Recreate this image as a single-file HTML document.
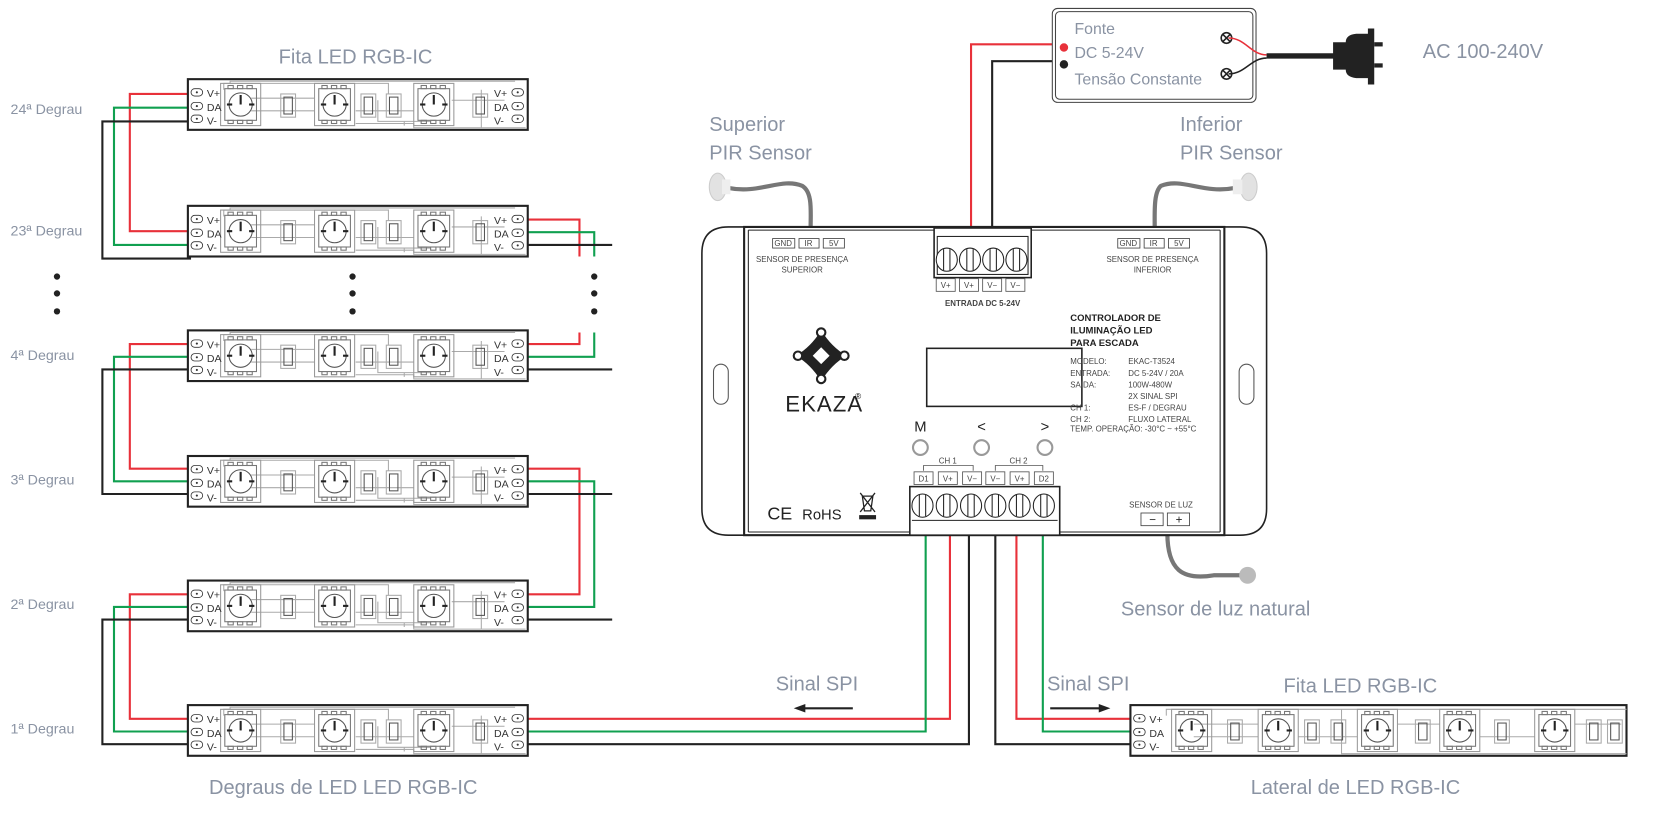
<!DOCTYPE html>
<html><head><meta charset="utf-8"><style>
html,body{margin:0;padding:0;background:#fff;width:1655px;height:817px;overflow:hidden}
svg{display:block}
.lb{font-family:"Liberation Sans",sans-serif;fill:#8a93a3;font-size:19px}
.sm{font-family:"Liberation Sans",sans-serif;fill:#333;font-size:10px}
.tx{font-family:"Liberation Sans",sans-serif;fill:#444;font-size:7.5px}
.dg{font-family:"Liberation Sans",sans-serif;fill:#8a93a3;font-size:13.5px}
</style></head><body>
<svg width="1655" height="817" viewBox="0 0 1568 774" preserveAspectRatio="none" xmlns="http://www.w3.org/2000/svg">
<defs>
<g id="chip">
 <rect x="0" y="4" width="38" height="40" fill="none" stroke="#999" stroke-width="1"/>
 <rect x="4" y="9" width="30" height="30" fill="none" stroke="#777" stroke-width="1"/>
 <circle cx="19" cy="24" r="11" fill="none" stroke="#555" stroke-width="1"/>
 <line x1="19" y1="15" x2="19" y2="24" stroke="#222" stroke-width="2"/>
 <line x1="6" y1="24" x2="11" y2="24" stroke="#222" stroke-width="2"/>
 <line x1="27" y1="24" x2="32" y2="24" stroke="#222" stroke-width="2"/>
 <rect x="7" y="6" width="5" height="3" fill="none" stroke="#777"/><rect x="16" y="6" width="5" height="3" fill="none" stroke="#777"/><rect x="25" y="6" width="5" height="3" fill="none" stroke="#777"/>
 <rect x="7" y="39" width="5" height="3" fill="none" stroke="#777"/><rect x="16" y="39" width="5" height="3" fill="none" stroke="#777"/><rect x="25" y="39" width="5" height="3" fill="none" stroke="#777"/>
</g>
<g id="res">
 <rect x="0" y="14" width="14" height="22" fill="none" stroke="#aaa"/>
 <rect x="3" y="17" width="8" height="16" fill="none" stroke="#555"/>
</g>
<g id="pads">
 <rect x="0" y="9" width="11" height="7" rx="3.5" fill="#fff" stroke="#333" stroke-width="0.8"/>
 <rect x="0" y="22" width="11" height="7" rx="3.5" fill="#fff" stroke="#333" stroke-width="0.8"/>
 <rect x="0" y="34" width="11" height="7" rx="3.5" fill="#fff" stroke="#333" stroke-width="0.8"/>
 <circle cx="5.5" cy="12.5" r="1" fill="#333"/><circle cx="5.5" cy="25.5" r="1" fill="#333"/><circle cx="5.5" cy="37.5" r="1" fill="#333"/>
</g>
<g id="strip">
 <rect x="0" y="0" width="322" height="48" fill="#fff" stroke="#222" stroke-width="2"/>
 <g fill="none" stroke="#aaa" stroke-width="1">
  <path d="M34 10 V4 H190 V14 M40 4 V2 H310 M60 30 H120 M60 18 H120 M159 30 H214 M159 42 H214 V46 H320 M250 20 H300 M180 20 V40 H230 M205 40 V44 M278 10 V46"/>
 </g>
 <use href="#chip" x="31" y="0"/><use href="#chip" x="120" y="0"/><use href="#chip" x="214" y="0"/>
 <use href="#res" x="88" y="0"/><use href="#res" x="164" y="0"/><use href="#res" x="188" y="0"/><use href="#res" x="270" y="0"/>
 <use href="#pads" x="3" y="0"/><use href="#pads" x="307" y="0"/>
</g>
<g id="lat">
 <rect x="0" y="0" width="470" height="48" fill="#fff" stroke="#222" stroke-width="2"/>
 <g fill="none" stroke="#aaa" stroke-width="1">
  <path d="M34 10 V4 H470 M60 18 H121 M60 30 H121 M159 30 H215 M253 18 H293 M331 30 H383 M421 18 H465 M200 4 V46 H470"/>
 </g>
 <use href="#chip" x="39" y="0"/><use href="#chip" x="121" y="0"/><use href="#chip" x="215" y="0"/><use href="#chip" x="293" y="0"/><use href="#chip" x="383" y="0"/>
 <use href="#res" x="92" y="0"/><use href="#res" x="165" y="0"/><use href="#res" x="190" y="0"/><use href="#res" x="270" y="0"/><use href="#res" x="345" y="0"/><use href="#res" x="432" y="0"/><use href="#res" x="452" y="0"/>
 <use href="#pads" x="3" y="0"/>
</g>
</defs>

<!-- wiring left side -->
<g fill="none" stroke-width="2">
 <path d="M181 89 H123 V219 H181" stroke="#e8313a"/>
 <path d="M181 102 H108 V232 H181" stroke="#10a050"/>
 <path d="M181 115 H97 V245 H181" stroke="#222"/>
 <path d="M181 326 H123 V444 H181" stroke="#e8313a"/>
 <path d="M181 338 H108 V456 H181" stroke="#10a050"/>
 <path d="M181 350 H97 V468 H181" stroke="#222"/>
 <path d="M181 563 H123 V681 H181" stroke="#e8313a"/>
 <path d="M181 575 H108 V693 H181" stroke="#10a050"/>
 <path d="M181 587 H97 V705 H181" stroke="#222"/>
 <!-- right side -->
 <path d="M497 208 H549 V243" stroke="#e8313a"/>
 <path d="M497 220 H563 V243" stroke="#10a050"/>
 <path d="M497 232 H580" stroke="#222"/>
 <path d="M549 315 V326 H497" stroke="#e8313a"/>
 <path d="M563 315 V338 H497" stroke="#10a050"/>
 <path d="M580 350 H497" stroke="#222"/>
 <path d="M497 444 H549 V563 H497" stroke="#e8313a"/>
 <path d="M497 456 H563 V575 H497" stroke="#10a050"/>
 <path d="M497 468 H580" stroke="#222"/>
 <path d="M497 587 H580" stroke="#222"/>
 <!-- strip1 to controller -->
 <path d="M497 681 H900 V505" stroke="#e8313a"/>
 <path d="M497 693 H877 V505" stroke="#10a050"/>
 <path d="M497 705 H918 V505" stroke="#222"/>
 <!-- CH2 to lateral -->
 <path d="M943 505 V705 H1075" stroke="#222"/>
 <path d="M963 505 V681 H1075" stroke="#e8313a"/>
 <path d="M988 505 V693 H1075" stroke="#10a050"/>
 <!-- power -->
 <path d="M920 216 V42 H1008" stroke="#e8313a"/>
 <path d="M940 216 V58 H1008" stroke="#222"/>
</g>

<!-- strips -->
<use href="#strip" x="178" y="75"/>
<use href="#strip" x="178" y="195"/>
<use href="#strip" x="178" y="313"/>
<use href="#strip" x="178" y="432"/>
<use href="#strip" x="178" y="550"/>
<use href="#strip" x="178" y="668"/>
<use href="#lat" x="1071" y="668"/>

<g class="sm">
 <text x="196" y="92">V+</text><text x="196" y="105">DA</text><text x="196" y="118">V-</text><text x="468" y="92">V+</text><text x="468" y="105">DA</text><text x="468" y="118">V-</text>
 <text x="196" y="212">V+</text><text x="196" y="225">DA</text><text x="196" y="238">V-</text><text x="468" y="212">V+</text><text x="468" y="225">DA</text><text x="468" y="238">V-</text>
 <text x="196" y="330">V+</text><text x="196" y="343">DA</text><text x="196" y="356">V-</text><text x="468" y="330">V+</text><text x="468" y="343">DA</text><text x="468" y="356">V-</text>
 <text x="196" y="449">V+</text><text x="196" y="462">DA</text><text x="196" y="475">V-</text><text x="468" y="449">V+</text><text x="468" y="462">DA</text><text x="468" y="475">V-</text>
 <text x="196" y="567">V+</text><text x="196" y="580">DA</text><text x="196" y="593">V-</text><text x="468" y="567">V+</text><text x="468" y="580">DA</text><text x="468" y="593">V-</text>
 <text x="196" y="685">V+</text><text x="196" y="698">DA</text><text x="196" y="711">V-</text><text x="468" y="685">V+</text><text x="468" y="698">DA</text><text x="468" y="711">V-</text>
 <text x="1089" y="685">V+</text><text x="1089" y="698">DA</text><text x="1089" y="711">V-</text>
</g>

<g class="dg">
 <text x="10" y="108">24ª Degrau</text><text x="10" y="223">23ª Degrau</text><text x="10" y="341">4ª Degrau</text>
 <text x="10" y="459">3ª Degrau</text><text x="10" y="577">2ª Degrau</text><text x="10" y="695">1ª Degrau</text>
</g>
<g fill="#222">
 <circle cx="54" cy="262" r="3"/><circle cx="54" cy="278" r="3"/><circle cx="54" cy="295" r="3"/>
 <circle cx="334" cy="262" r="3"/><circle cx="334" cy="278" r="3"/><circle cx="334" cy="295" r="3"/>
 <circle cx="563" cy="262" r="3"/><circle cx="563" cy="278" r="3"/><circle cx="563" cy="295" r="3"/>
</g>

<g class="lb">
 <text x="264" y="60">Fita LED RGB-IC</text>
 <text x="198" y="752">Degraus de LED LED RGB-IC</text>
 <text x="1185" y="752">Lateral de LED RGB-IC</text>
 <text x="1216" y="656">Fita LED RGB-IC</text>
 <text x="735" y="654">Sinal SPI</text>
 <text x="992" y="654">Sinal SPI</text>
 <text x="672" y="124">Superior</text><text x="672" y="151">PIR Sensor</text>
 <text x="1118" y="124">Inferior</text><text x="1118" y="151">PIR Sensor</text>
 <text x="1062" y="583">Sensor de luz natural</text>
 <text x="1348" y="55">AC 100-240V</text>
</g>
<!-- SPI arrows -->
<line x1="762" y1="671" x2="808" y2="671" stroke="#222" stroke-width="2"/><path d="M752 671 L763 667 L763 675Z" fill="#222"/>
<line x1="995" y1="671" x2="1042" y2="671" stroke="#222" stroke-width="2"/><path d="M1052 671 L1041 667 L1041 675Z" fill="#222"/>

<!-- PSU -->
<rect x="997" y="8" width="193" height="89" rx="5" fill="#fff" stroke="#444" stroke-width="1"/>
<rect x="1000" y="11" width="187" height="83" rx="4" fill="none" stroke="#444" stroke-width="1"/>
<g font-family="Liberation Sans,sans-serif" fill="#8a93a3" font-size="15"><text x="1018" y="32">Fonte</text><text x="1018" y="55">DC 5-24V</text><text x="1018" y="80">Tensão Constante</text></g>
<circle cx="1008" cy="45" r="4" fill="#e8313a"/><circle cx="1008" cy="61" r="4" fill="#222"/>
<g fill="none" stroke="#222" stroke-width="1.5"><circle cx="1162" cy="36" r="5"/><circle cx="1162" cy="70" r="5"/><path d="M1158 32 L1166 40 M1166 32 L1158 40 M1158 66 L1166 74 M1166 66 L1158 74"/></g>
<path d="M1164 36 C1180 36 1185 52 1200 52" fill="none" stroke="#e8313a" stroke-width="1.5"/>
<path d="M1164 70 C1180 70 1185 55 1200 55" fill="none" stroke="#222" stroke-width="1.5"/>
<line x1="1200" y1="53" x2="1268" y2="53" stroke="#222" stroke-width="5"/>
<path d="M1263 40 H1275 Q1275 33 1285 32 H1296 V27 H1302 V80 H1296 V74 H1285 Q1275 73 1275 66 H1263 Z" fill="#222"/>
<rect x="1302" y="40" width="8" height="4" fill="#222"/><rect x="1302" y="60" width="8" height="4" fill="#222"/>

<!-- PIR sensors -->
<path d="M690 178 C720 184 740 168 760 176 C770 182 768 200 768 216" fill="none" stroke="#777" stroke-width="4"/>
<ellipse cx="680" cy="177" rx="8" ry="13" fill="#e2e2e2" stroke="#ccc"/><rect x="684" y="170" width="8" height="14" fill="#eee"/>
<path d="M1170 178 C1140 184 1120 168 1100 176 C1093 182 1094 200 1094 216" fill="none" stroke="#777" stroke-width="4"/>
<ellipse cx="1183" cy="177" rx="8" ry="13" fill="#e2e2e2" stroke="#ccc"/><rect x="1168" y="170" width="9" height="14" fill="#eee"/>
<!-- light sensor -->
<path d="M1106 505 C1106 540 1120 550 1150 545 L1176 545" fill="none" stroke="#777" stroke-width="4"/>
<circle cx="1182" cy="545" r="8" fill="#bbb"/>

<!-- controller body -->
<path d="M705 215 H690 Q665 215 665 240 V482 Q665 507 690 507 H705" fill="#fff" stroke="#222" stroke-width="1.5"/>
<path d="M1160 215 H1175 Q1200 215 1200 240 V482 Q1200 507 1175 507 H1160" fill="#fff" stroke="#222" stroke-width="1.5"/>
<rect x="705" y="215" width="455" height="292" fill="#fff" stroke="#222" stroke-width="2"/>
<line x1="709" y1="218" x2="709" y2="504" stroke="#222" stroke-width="1"/>
<line x1="1156" y1="218" x2="1156" y2="504" stroke="#222" stroke-width="1"/>
<line x1="709" y1="218" x2="1156" y2="218" stroke="#222" stroke-width="1"/>
<line x1="709" y1="504" x2="1156" y2="504" stroke="#222" stroke-width="1"/>
<rect x="676" y="345" width="14" height="38" rx="7" fill="none" stroke="#555"/>
<rect x="1174" y="345" width="14" height="38" rx="7" fill="none" stroke="#555"/>

<!-- sensor labels -->
<g fill="none" stroke="#444" stroke-width="0.8">
 <rect x="732" y="226" width="21" height="9"/><rect x="757" y="226" width="19" height="9"/><rect x="780" y="226" width="20" height="9"/>
 <rect x="1059" y="226" width="21" height="9"/><rect x="1084" y="226" width="19" height="9"/><rect x="1107" y="226" width="20" height="9"/>
</g>
<g class="tx" text-anchor="middle">
 <text x="742" y="233">GND</text><text x="766" y="233">IR</text><text x="790" y="233">5V</text>
 <text x="1069" y="233">GND</text><text x="1093" y="233">IR</text><text x="1117" y="233">5V</text>
 <text x="760" y="248">SENSOR DE PRESENÇA</text><text x="760" y="258">SUPERIOR</text>
 <text x="1092" y="248">SENSOR DE PRESENÇA</text><text x="1092" y="258">INFERIOR</text>
</g>
<!-- top terminal -->
<rect x="885" y="216" width="92" height="47" fill="#fff" stroke="#222" stroke-width="1.5"/>
<rect x="888" y="224" width="86" height="36" fill="none" stroke="#222" stroke-width="1"/>
<g fill="#fff" stroke="#222" stroke-width="1">
 <ellipse cx="897" cy="246" rx="10" ry="11"/><ellipse cx="919" cy="246" rx="10" ry="11"/><ellipse cx="941" cy="246" rx="10" ry="11"/><ellipse cx="963" cy="246" rx="10" ry="11"/>
 <path d="M894 236 V256 M900 236 V256 M916 236 V256 M922 236 V256 M938 236 V256 M944 236 V256 M960 236 V256 M966 236 V256"/>
</g>
<g fill="none" stroke="#555" stroke-width="0.8"><rect x="887" y="264" width="18" height="12"/><rect x="909" y="264" width="18" height="12"/><rect x="931" y="264" width="18" height="12"/><rect x="953" y="264" width="18" height="12"/></g>
<g class="tx" text-anchor="middle"><text x="896" y="273">V+</text><text x="918" y="273">V+</text><text x="940" y="273">V−</text><text x="962" y="273">V−</text>
<text x="931" y="290" font-weight="bold" font-size="7.5">ENTRADA DC 5-24V</text></g>

<!-- logo -->
<g transform="translate(778,337)">
 <path d="M-2 -22 L20 -4 L4 18 L-18 4 Z" fill="none"/>
 <path d="M0 -24 Q10 -8 24 0 Q10 8 0 24 Q-10 8 -24 0 Q-10 -8 0 -24 Z M0 -8 L-8 0 L0 8 L8 0 Z" fill="#222" fill-rule="evenodd"/>
 <circle cx="0" cy="-22" r="4" fill="#fff" stroke="#222" stroke-width="2"/><circle cx="0" cy="22" r="4" fill="#fff" stroke="#222" stroke-width="2"/>
 <circle cx="-22" cy="0" r="4" fill="#fff" stroke="#222" stroke-width="2"/><circle cx="22" cy="0" r="4" fill="#fff" stroke="#222" stroke-width="2"/>
</g>
<text x="744" y="390" font-family="Liberation Sans,sans-serif" font-size="21" fill="#222" letter-spacing="1">EKAZA</text>
<text x="810" y="378" font-family="Liberation Sans,sans-serif" font-size="8" fill="#222">®</text>
<!-- display -->
<rect x="878" y="330" width="147" height="55" fill="#fff" stroke="#222" stroke-width="1.5"/>
<g font-family="Liberation Sans,sans-serif" font-size="14" fill="#222" text-anchor="middle"><text x="872" y="409">M</text><text x="930" y="409">&lt;</text><text x="990" y="409">&gt;</text></g>
<g fill="none" stroke="#999" stroke-width="2"><circle cx="872" cy="424" r="7"/><circle cx="930" cy="424" r="7"/><circle cx="990" cy="424" r="7"/></g>
<!-- specs -->
<g font-family="Liberation Sans,sans-serif" font-weight="bold" font-size="9" fill="#222"><text x="1014" y="304">CONTROLADOR DE</text><text x="1014" y="316">ILUMINAÇÃO LED</text><text x="1014" y="328">PARA ESCADA</text></g>
<g class="tx">
 <text x="1014" y="345">MODELO:</text><text x="1069" y="345">EKAC-T3524</text>
 <text x="1014" y="356">ENTRADA:</text><text x="1069" y="356">DC 5-24V / 20A</text>
 <text x="1014" y="367">SAÍDA:</text><text x="1069" y="367">100W-480W</text>
 <text x="1069" y="378">2X SINAL SPI</text>
 <text x="1014" y="389">CH 1:</text><text x="1069" y="389">ES-F / DEGRAU</text>
 <text x="1014" y="400">CH 2:</text><text x="1069" y="400">FLUXO LATERAL</text>
 <text x="1014" y="409">TEMP. OPERAÇÃO: -30°C ~ +55°C</text>
</g>
<!-- CH labels -->
<g fill="none" stroke="#555" stroke-width="0.8">
 <path d="M875 446 V441 H922 V446 M943 446 V441 H988 V446"/>
 <rect x="866" y="447" width="18" height="12"/><rect x="889" y="447" width="18" height="12"/><rect x="912" y="447" width="18" height="12"/>
 <rect x="934" y="447" width="18" height="12"/><rect x="957" y="447" width="18" height="12"/><rect x="980" y="447" width="18" height="12"/>
</g>
<g class="tx" text-anchor="middle"><text x="898" y="439">CH 1</text><text x="965" y="439">CH 2</text>
<text x="875" y="456">D1</text><text x="898" y="456">V+</text><text x="921" y="456">V−</text><text x="943" y="456">V−</text><text x="966" y="456">V+</text><text x="989" y="456">D2</text></g>
<!-- bottom terminal -->
<rect x="862" y="461" width="142" height="46" fill="#fff" stroke="#222" stroke-width="1.5"/>
<line x1="864" y1="493" x2="1002" y2="493" stroke="#222"/>
<g fill="#fff" stroke="#222" stroke-width="1">
 <ellipse cx="874" cy="479" rx="10" ry="11"/><ellipse cx="897" cy="479" rx="10" ry="11"/><ellipse cx="920" cy="479" rx="10" ry="11"/>
 <ellipse cx="943" cy="479" rx="10" ry="11"/><ellipse cx="966" cy="479" rx="10" ry="11"/><ellipse cx="989" cy="479" rx="10" ry="11"/>
 <path d="M871 469 V489 M877 469 V489 M894 469 V489 M900 469 V489 M917 469 V489 M923 469 V489 M940 469 V489 M946 469 V489 M963 469 V489 M969 469 V489 M986 469 V489 M992 469 V489"/>
</g>
<!-- CE RoHS -->
<text x="727" y="492" font-family="Liberation Sans,sans-serif" font-size="17" fill="#222">CE</text>
<text x="760" y="492" font-family="Liberation Sans,sans-serif" font-size="14" fill="#222">RoHS</text>
<g stroke="#222" stroke-width="1.2" fill="none"><path d="M815 467 L829 485 M829 467 L815 485 M817 470 H827 L825 484 H819 Z"/></g>
<rect x="814" y="488" width="16" height="4" fill="#222"/>
<text x="1100" y="481" class="tx" text-anchor="middle">SENSOR DE LUZ</text>
<g fill="none" stroke="#444" stroke-width="0.8"><rect x="1081" y="486" width="21" height="12"/><rect x="1106" y="486" width="21" height="12"/></g>
<g font-family="Liberation Sans,sans-serif" font-size="11" fill="#222" text-anchor="middle"><text x="1092" y="496">−</text><text x="1117" y="496">+</text></g>
</svg>
</body></html>
